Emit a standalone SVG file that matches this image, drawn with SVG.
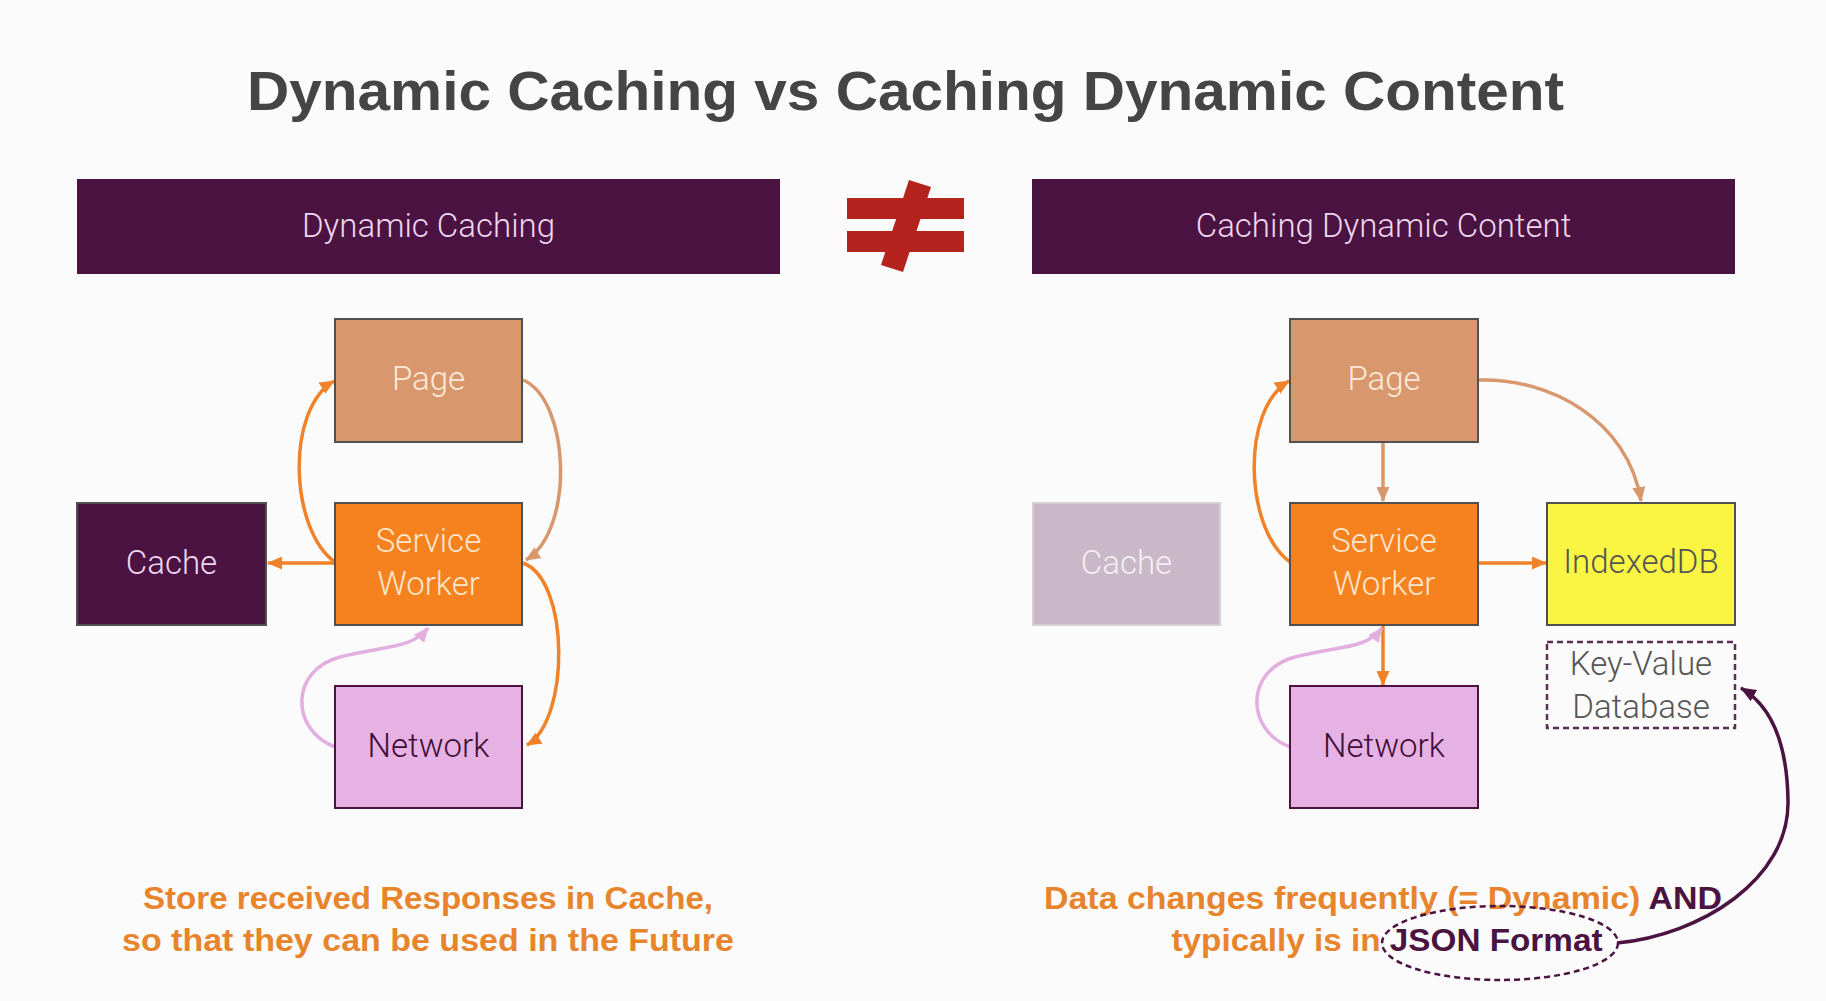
<svg xmlns="http://www.w3.org/2000/svg" width="1826" height="1001" viewBox="0 0 1826 1001">
<style>
.title{font-family:"Liberation Sans",Arial,sans-serif;font-weight:bold;font-size:55px;fill:#454545}
.hdr{font-family:Roboto,"Liberation Sans",sans-serif;font-weight:300;font-size:33px;fill:#efd6ee}
.lbl{font-family:Roboto,"Liberation Sans",sans-serif;font-weight:300;font-size:33px;text-anchor:middle}
.note{font-family:"Liberation Sans",Arial,sans-serif;font-weight:bold;font-size:32px;text-anchor:middle;fill:#e8842c}
.box{stroke-width:2}
.c{fill:none;stroke-width:3.5}
</style>
<defs>
<marker id="aO" markerUnits="userSpaceOnUse" markerWidth="15" markerHeight="13" refX="14" refY="6.5" orient="auto"><path d="M0,0L15,6.5L0,13z" fill="#f0822a"/></marker>
<marker id="aT" markerUnits="userSpaceOnUse" markerWidth="15" markerHeight="13" refX="14" refY="6.5" orient="auto"><path d="M0,0L15,6.5L0,13z" fill="#d8976c"/></marker>
<marker id="aP" markerUnits="userSpaceOnUse" markerWidth="15" markerHeight="13" refX="14" refY="6.5" orient="auto"><path d="M0,0L15,6.5L0,13z" fill="#e3aee0"/></marker>
<marker id="aD" markerUnits="userSpaceOnUse" markerWidth="16" markerHeight="13" refX="15" refY="6.5" orient="auto"><path d="M0,0L16,6.5L0,13z" fill="#4a1340"/></marker>
</defs>
<rect width="1826" height="1001" fill="#fbfbfb"/>

<g id="title"><text class="title" x="247" y="110" textLength="1317" lengthAdjust="spacingAndGlyphs">Dynamic Caching vs Caching Dynamic Content</text></g>

<g id="header-left"><rect x="77" y="179" width="703" height="95" fill="#4a1341"/><text class="hdr" x="428.5" y="237" text-anchor="middle">Dynamic Caching</text></g>
<g id="header-right"><rect x="1032" y="179" width="703" height="95" fill="#4a1341"/><text class="hdr" x="1383.5" y="237" text-anchor="middle">Caching Dynamic Content</text></g>

<g id="not-equal" fill="#b5231f">
<rect x="847" y="198" width="117" height="21"/>
<rect x="847" y="231" width="117" height="21"/>
<polygon points="909,180 931,187 903,272 881,265"/>
</g>

<g id="connectors">
<path class="c" stroke="#f0822a" d="M335,563 L268,563" marker-end="url(#aO)"/>
<path class="c" stroke="#f0822a" d="M335,562 C290,530 285,410 334,381" marker-end="url(#aO)"/>
<path class="c" stroke="#d8976c" d="M523,380 C570,400 575,530 526,560" marker-end="url(#aT)"/>
<path class="c" stroke="#f0822a" d="M523,563 C570,580 570,720 527,745" marker-end="url(#aO)"/>
<path class="c" stroke="#e3aee0" d="M335,747 C290,730 290,670 340,657 C385,645 410,650 428,628" marker-end="url(#aP)"/>
<path class="c" stroke="#d8976c" d="M1383,443 L1383,501" marker-end="url(#aT)"/>
<path class="c" stroke="#f0822a" d="M1290,562 C1245,530 1240,410 1289,381" marker-end="url(#aO)"/>
<path class="c" stroke="#d8976c" d="M1479,380 C1550,378 1628,420 1641,501" marker-end="url(#aT)"/>
<path class="c" stroke="#f0822a" d="M1478,563 L1546,563" marker-end="url(#aO)"/>
<path class="c" stroke="#f0822a" d="M1383,626 L1383,685" marker-end="url(#aO)"/>
<path class="c" stroke="#e3aee0" d="M1290,747 C1245,730 1245,670 1295,657 C1340,645 1365,650 1382,628" marker-end="url(#aP)"/>
<path fill="none" stroke="#4a1340" stroke-width="3.5" d="M1617,943 C1700,935 1790,880 1788,800 C1787,740 1770,705 1741,688" marker-end="url(#aD)"/>
</g>

<g id="page-left"><rect class="box" x="335" y="319" width="187" height="123" fill="#d8976c" stroke="#505050"/><text class="lbl" x="428.5" y="390" fill="#fdeadb">Page</text></g>
<g id="sw-left"><rect class="box" x="335" y="503" width="187" height="122" fill="#f5821f" stroke="#505050"/><text class="lbl" x="428.5" y="552" fill="#fde6cc">Service</text><text class="lbl" x="428.5" y="595" fill="#fde6cc">Worker</text></g>
<g id="cache-left"><rect class="box" x="77" y="503" width="189" height="122" fill="#4a1341" stroke="#505050"/><text class="lbl" x="171.5" y="574" fill="#f1d6ef">Cache</text></g>
<g id="network-left"><rect class="box" x="335" y="686" width="187" height="122" fill="#e6b1e3" stroke="#4a1340"/><text class="lbl" x="428.5" y="757" fill="#3f0f37">Network</text></g>

<g id="page-right"><rect class="box" x="1290" y="319" width="188" height="123" fill="#d8976c" stroke="#505050"/><text class="lbl" x="1384" y="390" fill="#fdeadb">Page</text></g>
<g id="sw-right"><rect class="box" x="1290" y="503" width="188" height="122" fill="#f5821f" stroke="#505050"/><text class="lbl" x="1384" y="552" fill="#fde6cc">Service</text><text class="lbl" x="1384" y="595" fill="#fde6cc">Worker</text></g>
<g id="cache-right"><rect x="1033" y="503" width="187" height="122" fill="#c9b9c8" stroke="#d6d0d5" stroke-width="2"/><text class="lbl" x="1126.5" y="574" fill="#f5edf3">Cache</text></g>
<g id="network-right"><rect class="box" x="1290" y="686" width="188" height="122" fill="#e6b1e3" stroke="#4a1340"/><text class="lbl" x="1384" y="757" fill="#3f0f37">Network</text></g>
<g id="indexeddb"><rect class="box" x="1547" y="503" width="188" height="122" fill="#faf543" stroke="#505050"/><text class="lbl" x="1641" y="573" fill="#555">IndexedDB</text></g>
<g id="keyvalue"><rect x="1547" y="642" width="188" height="86" fill="none" stroke="#5a2d52" stroke-width="2.5" stroke-dasharray="6,4"/><text class="lbl" x="1641" y="675" fill="#555">Key-Value</text><text class="lbl" x="1641" y="718" fill="#555">Database</text></g>

<g id="note-left">
<text class="note" x="428" y="909" textLength="570" lengthAdjust="spacingAndGlyphs">Store received Responses in Cache,</text>
<text class="note" x="428" y="951" textLength="612" lengthAdjust="spacingAndGlyphs">so that they can be used in the Future</text>
</g>
<g id="note-right">
<text class="note" x="1383" y="909" textLength="678" lengthAdjust="spacingAndGlyphs">Data changes frequently (= Dynamic) <tspan fill="#4a1340">AND</tspan></text>
<text class="note" x="1387" y="951" textLength="431" lengthAdjust="spacingAndGlyphs">typically is in <tspan fill="#4a1340">JSON Format</tspan></text>
<ellipse cx="1500" cy="943" rx="118" ry="37" fill="none" stroke="#4a1340" stroke-width="2.5" stroke-dasharray="6,4"/>
</g>
</svg>
